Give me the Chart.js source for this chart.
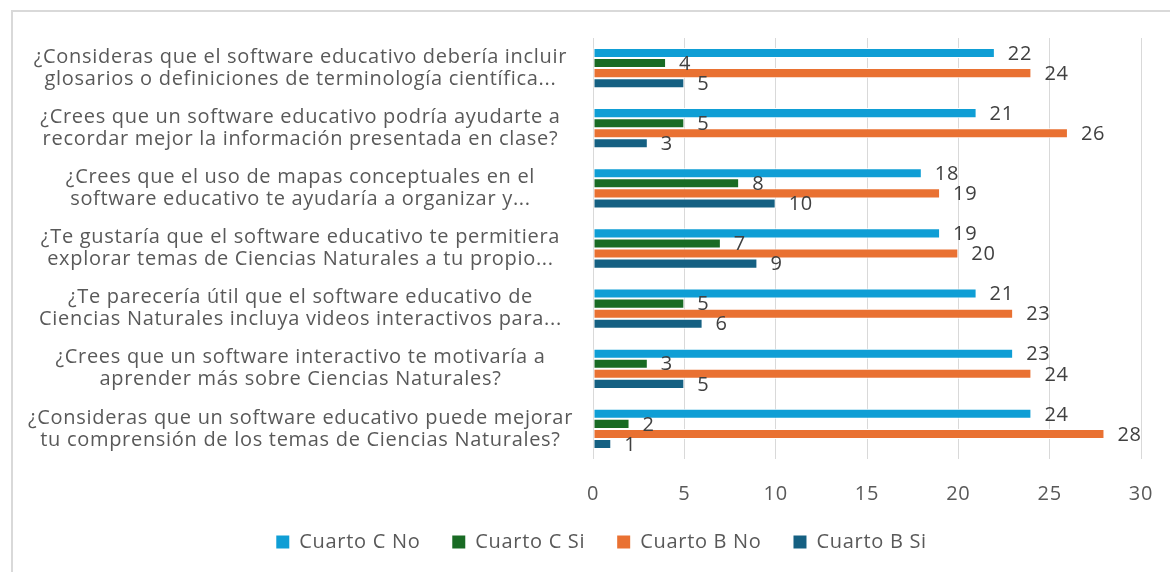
<!DOCTYPE html>
<html>
<head>
<meta charset="utf-8">
<script src="https://cdn.jsdelivr.net/npm/chart.js@4/dist/chart.umd.min.js"></script>
<style>
  html, body { margin: 0; padding: 0; background: #fff; }
  #frame { position: absolute; left: 11px; top: 10px; width: 1200px; height: 600px;
           border-left: 2px solid #d9d9d9; border-top: 2px solid #d9d9d9; }
  #wrap { position: absolute; left: 0; top: 0; width: 1170px; height: 572px; }
</style>
</head>
<body>
<div id="frame"></div>
<div id="wrap"><canvas id="chart" width="1170" height="572"></canvas></div>
<script>
// questions, top to bottom
const questions = [
  ['¿Consideras que el software educativo debería incluir', 'glosarios o definiciones de terminología científica...'],
  ['¿Crees que un software educativo podría ayudarte a', 'recordar mejor la información presentada en clase?'],
  ['¿Crees que el uso de mapas conceptuales en el', 'software educativo te ayudaría a organizar y...'],
  ['¿Te gustaría que el software educativo te permitiera', 'explorar temas de Ciencias Naturales a tu propio...'],
  ['¿Te parecería útil que el software educativo de', 'Ciencias Naturales incluya videos interactivos para...'],
  ['¿Crees que un software interactivo te motivaría a', 'aprender más sobre Ciencias Naturales?'],
  ['¿Consideras que un software educativo puede mejorar', 'tu comprensión de los temas de Ciencias Naturales?']
];

const cuartoCNo = [22, 21, 18, 19, 21, 23, 24];
const cuartoCSi = [4, 5, 8, 7, 5, 3, 2];
const cuartoBNo = [24, 26, 19, 20, 23, 24, 28];
const cuartoBSi = [5, 3, 10, 9, 6, 5, 1];

const xTicks = [0, 5, 10, 15, 20, 25, 30];

const FONT = "'Open Sans', 'Liberation Sans', sans-serif";
const SPACING = '0.7px';

// the office font runs wider, so widen the letters a little
const spacing = {
  id: 'spacing',
  beforeLayout(chart) { chart.ctx.letterSpacing = SPACING; },
  beforeDraw(chart) { chart.ctx.letterSpacing = SPACING; },
  // legend sits a bit right of the canvas centre in the original
  afterLayout(chart) {
    chart.legend.left += 34;
    chart.legend.right += 34;
  }
};

// write the value next to each bar end
const valueLabels = {
  id: 'valueLabels',
  afterDatasetsDraw(chart) {
    const ctx = chart.ctx;
    ctx.save();
    ctx.font = '20px ' + FONT;
    ctx.fillStyle = '#404040';
    ctx.textAlign = 'left';
    ctx.textBaseline = 'middle';
    chart.data.datasets.forEach((ds, i) => {
      chart.getDatasetMeta(i).data.forEach((bar, j) => {
        ctx.fillText(String(ds.data[j]), bar.x + 13, bar.y + 1);
      });
    });
    ctx.restore();
  }
};

function series(label, data, color) {
  return {
    label: label,
    data: data,
    backgroundColor: color,
    borderColor: '#ffffff',
    borderWidth: 1,
    borderSkipped: false,
    barPercentage: 1,
    categoryPercentage: 0.67
  };
}

new Chart(document.getElementById('chart'), {
  type: 'bar',
  data: {
    labels: questions,
    datasets: [
      series('Cuarto C No', cuartoCNo, '#0f9ed5'),
      series('Cuarto C Si', cuartoCSi, '#196b24'),
      series('Cuarto B No', cuartoBNo, '#e97132'),
      series('Cuarto B Si', cuartoBSi, '#156082')
    ]
  },
  options: {
    indexAxis: 'y',
    responsive: false,
    animation: false,
    layout: { padding: { top: 38, right: 29, bottom: 10, left: 0 } },
    scales: {
      x: {
        min: 0,
        max: 30,
        afterBuildTicks: s => { s.ticks = xTicks.map(v => ({ value: v })); },
        afterFit: s => { s.height = 47; s.paddingLeft = 0; s.paddingRight = 0; },
        grid: { color: '#d9d9d9', lineWidth: 1, drawTicks: false },
        border: { display: false },
        ticks: { color: '#595959', font: { family: FONT, size: 20 }, padding: 23 }
      },
      y: {
        afterFit: s => { s.width = 593; s.paddingTop = 0; s.paddingBottom = 0; },
        grid: { display: false, drawTicks: false },
        border: { display: false },
        ticks: {
          crossAlign: 'center',
          padding: 20,
          color: '#595959',
          font: { family: FONT, size: 20, lineHeight: 1.1 }
        }
      }
    },
    plugins: {
      legend: {
        position: 'bottom',
        labels: {
          boxWidth: 13,
          boxHeight: 13,
          padding: 26,
          color: '#595959',
          font: { family: FONT, size: 20 },
          generateLabels: chart => Chart.defaults.plugins.legend.labels.generateLabels(chart)
            .map(item => Object.assign(item, { text: item.text + ' ', lineWidth: 0 }))
        }
      },
      tooltip: { enabled: false }
    }
  },
  plugins: [spacing, valueLabels]
});
</script>
</body>
</html>
